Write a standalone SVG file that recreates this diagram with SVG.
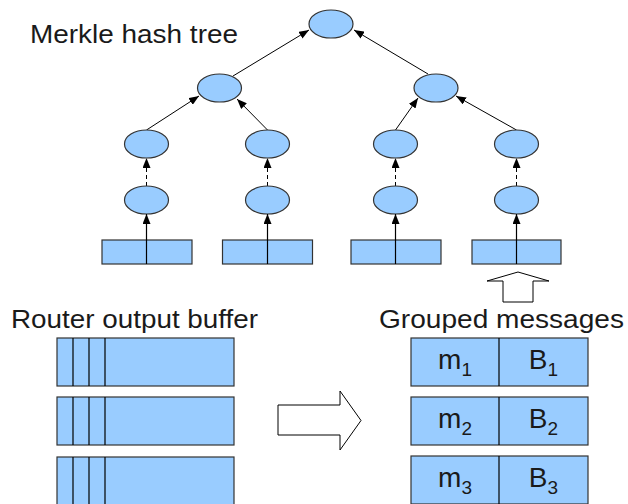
<svg xmlns="http://www.w3.org/2000/svg" width="628" height="504" viewBox="0 0 628 504">
<style>
.n{fill:#99ccff;stroke:#333;stroke-width:1.2}
.d{stroke:#000;stroke-width:1.2;fill:none}
.e{stroke:#000;stroke-width:1;fill:none}
.ds{stroke-dasharray:4,3}
.t{font-family:"Liberation Sans",Arial,sans-serif;font-size:25px;fill:#1a1a1a}
.m{font-family:"Liberation Sans",Arial,sans-serif;font-size:28px;fill:#1a1a1a;text-anchor:middle}
.s{font-size:19px}
.h{fill:#fff;stroke:#000;stroke-width:1}
</style>
<defs>
<marker id="a" viewBox="0 0 10 8" refX="10" refY="4" markerWidth="10" markerHeight="8" markerUnits="userSpaceOnUse" orient="auto">
<path d="M0,0 L10,4 L0,8 Z" fill="#000"/>
</marker>
</defs>

<text class="t" x="30" y="43" textLength="208" lengthAdjust="spacingAndGlyphs">Merkle hash tree</text>
<text class="t" x="11" y="328" textLength="247" lengthAdjust="spacingAndGlyphs">Router output buffer</text>
<text class="t" x="379" y="328" textLength="245" lengthAdjust="spacingAndGlyphs">Grouped messages</text>

<g id="connectors">
<path class="e" d="M233,76 L309,30" marker-end="url(#a)"/>
<path class="e" d="M428,74 L354,30" marker-end="url(#a)"/>
<path class="e" d="M146.5,130 L199,96" marker-end="url(#a)"/>
<path class="e" d="M267.5,130 L237,99" marker-end="url(#a)"/>
<path class="e" d="M395.5,130 L418,98" marker-end="url(#a)"/>
<path class="e" d="M516.5,130 L456,96" marker-end="url(#a)"/>
<path class="e ds" d="M146.5,186 L146.5,158" marker-end="url(#a)"/>
<path class="e ds" d="M267.5,186 L267.5,158" marker-end="url(#a)"/>
<path class="e ds" d="M395.5,186 L395.5,158" marker-end="url(#a)"/>
<path class="e ds" d="M516.5,186 L516.5,158" marker-end="url(#a)"/>
</g>

<g id="root"><ellipse class="n" cx="331" cy="24" rx="22" ry="14"/></g>
<g id="h1"><ellipse class="n" cx="219.5" cy="88" rx="22" ry="14"/></g>
<g id="h2"><ellipse class="n" cx="436" cy="88" rx="22" ry="14"/></g>
<g id="h11"><ellipse class="n" cx="146.5" cy="144" rx="22" ry="14"/></g>
<g id="h12"><ellipse class="n" cx="267.5" cy="144" rx="22" ry="14"/></g>
<g id="h21"><ellipse class="n" cx="395.5" cy="144" rx="22" ry="14"/></g>
<g id="h22"><ellipse class="n" cx="516.5" cy="144" rx="22" ry="14"/></g>
<g id="l1"><ellipse class="n" cx="146.5" cy="200" rx="22" ry="14"/></g>
<g id="l2"><ellipse class="n" cx="267.5" cy="200" rx="22" ry="14"/></g>
<g id="l3"><ellipse class="n" cx="395.5" cy="200" rx="22" ry="14"/></g>
<g id="l4"><ellipse class="n" cx="516.5" cy="200" rx="22" ry="14"/></g>

<g id="b1"><rect class="n" x="102" y="240" width="90" height="24"/></g>
<g id="b2"><rect class="n" x="222.5" y="240" width="90" height="24"/></g>
<g id="b3"><rect class="n" x="351" y="240" width="90" height="24"/></g>
<g id="b4"><rect class="n" x="472" y="240" width="89" height="24"/></g>

<g id="leaf-connectors">
<path class="d" d="M146.5,264 L146.5,214" marker-end="url(#a)"/>
<path class="d" d="M267.5,264 L267.5,214" marker-end="url(#a)"/>
<path class="d" d="M395.5,264 L395.5,214" marker-end="url(#a)"/>
<path class="d" d="M516.5,264 L516.5,214" marker-end="url(#a)"/>
</g>

<g id="up-arrow"><polygon class="h" points="503,302 503,281 487,281 518,272 549,281 533,281 533,302"/></g>
<g id="right-arrow"><polygon class="h" points="278,405 340,405 340,391 361,420.5 340,450 340,435 278,435"/></g>

<g id="buf1"><rect class="n" x="57" y="338" width="177" height="48"/><path class="d" d="M73,338V386M89,338V386M105,338V386"/></g>
<g id="buf2"><rect class="n" x="57" y="397" width="177" height="48"/><path class="d" d="M73,397V445M89,397V445M105,397V445"/></g>
<g id="buf3"><rect class="n" x="57" y="457" width="177" height="48"/><path class="d" d="M73,457V505M89,457V505M105,457V505"/></g>

<g id="msg1"><rect class="n" x="411" y="338" width="177" height="48"/><path class="d" d="M499,338V386"/>
<text class="m" x="455" y="369">m<tspan class="s" dy="7">1</tspan></text>
<text class="m" x="543.5" y="369">B<tspan class="s" dy="7">1</tspan></text></g>
<g id="msg2"><rect class="n" x="411" y="397" width="177" height="48"/><path class="d" d="M499,397V445"/>
<text class="m" x="455" y="428">m<tspan class="s" dy="7">2</tspan></text>
<text class="m" x="543.5" y="428">B<tspan class="s" dy="7">2</tspan></text></g>
<g id="msg3"><rect class="n" x="411" y="456" width="177" height="48"/><path class="d" d="M499,456V505"/>
<text class="m" x="455" y="487">m<tspan class="s" dy="7">3</tspan></text>
<text class="m" x="543.5" y="487">B<tspan class="s" dy="7">3</tspan></text></g>
</svg>
